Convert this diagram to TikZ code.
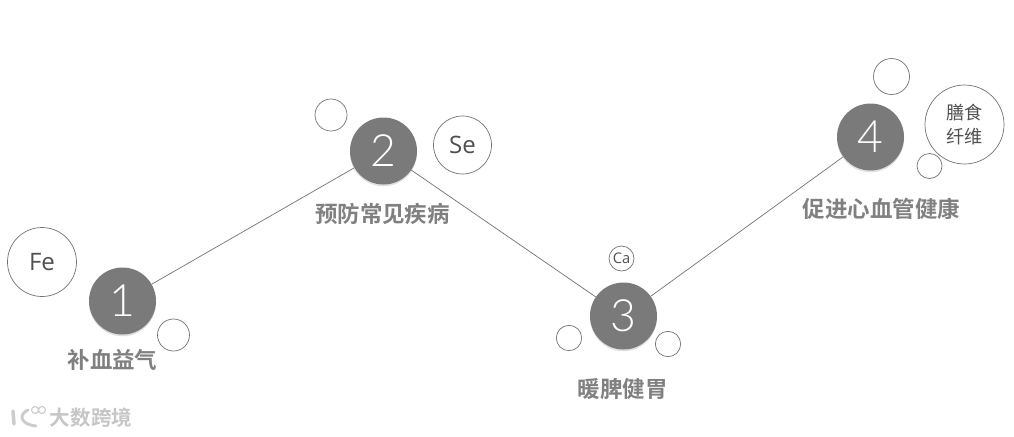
\documentclass[tikz,border=0pt]{standalone}
\usepackage{fontspec}
\setmainfont{Open Sans}
\newfontfamily\cjk{Noto Sans CJK SC}
\newfontfamily\cjkb{Noto Sans CJK SC Bold}
\newfontfamily\numfont{Lato Light}
\usetikzlibrary{shadows}
\definecolor{ballgray}{HTML}{7A7A7A}
\definecolor{titlegray}{HTML}{808080}
\definecolor{textgray}{HTML}{505050}
\tikzset{
    ball/.style={circle, fill=ballgray, minimum size=2.01cm, inner sep=0pt, text=white,
        font=\numfont\fontsize{38}{38}\selectfont,
        drop shadow={shadow xshift=0pt, shadow yshift=-1.5pt, opacity=0.12, fill=black}},
    ring/.style={circle, draw=black!55, line width=0.6pt, fill=white, inner sep=0pt, text=textgray},
    title/.style={text=titlegray, inner sep=0pt, font=\cjkb\fontsize{19.2}{19.2}\selectfont},
    link/.style={draw=black!55, line width=0.6pt}
}
\begin{document}
\begin{tikzpicture}[x=0.03cm, y=-0.03cm]
    \useasboundingbox (0,0) rectangle (1014,436);

    % 主圆
    \node[ball] (n1) at (122.5,301) {1};
    \node[ball] (n2) at (383.5,151) {2};
    \node[ball] (n3) at (623.5,316) {3};
    \node[ball] (n4) at (870.5,137) {4};

    % 连线
    \draw[link] (n1) -- (n2);
    \draw[link] (n2) -- (n3);
    \draw[link] (n3) -- (n4);

    % 小圆 1
    \node[ring, minimum size=2.07cm, font=\fontsize{20.5}{20.5}\selectfont] (fe) at (42,262) {\raisebox{-1pt}{Fe}};
    \node[ring, minimum size=0.96cm] (r1) at (173.5,335) {};

    % 小圆 2
    \node[ring, minimum size=0.96cm] (r2) at (331,115) {};
    \node[ring, minimum size=1.74cm, font=\fontsize{20.5}{20.5}\selectfont] (se) at (462.5,145) {\raisebox{-2pt}{Se}};

    % 小圆 3
    \node[ring, minimum size=0.75cm, font=\fontsize{12.5}{12.5}\selectfont] (ca) at (621.5,258.5) {Ca};
    \node[ring, minimum size=0.76cm] (r3a) at (569,338) {};
    \node[ring, minimum size=0.76cm] (r3b) at (668,344) {};

    % 小圆 4
    \node[ring, minimum size=1.08cm] (r4a) at (891.5,76.5) {};
    \node[ring, minimum size=2.37cm, align=center, font=\cjk\fontsize{15.5}{20.5}\selectfont] (fiber) at (964.5,124.5) {膳食\\纤维};
    \node[ring, minimum size=0.75cm] (r4b) at (929.5,166) {};

    % 标题
    \node[title] (t1) at (112.5,360) {补血益气};
    \node[title] (t2) at (382.5,213.5) {预防常见疾病};
    \node[title] (t3) at (622.5,389) {暖脾健胃};
    \node[title] (t4) at (881.5,208.5) {促进心血管健康};

    % 水印
    \draw[gray!40, line width=3pt, line cap=round] (13,411) -- (14,424);
    \draw[gray!40, line width=2.5pt, line cap=round] (28,410) .. controls (19,414) and (19,424) .. (36,426);
    \draw[gray!40, line width=1pt] (35,410) circle (3.5) (42,410) circle (3.5);
    \node[text=gray!45, inner sep=0pt, font=\cjkb\fontsize{17.5}{17.5}\selectfont] (mark1) at (91,418) {大数跨境};
\end{tikzpicture}
\end{document}
